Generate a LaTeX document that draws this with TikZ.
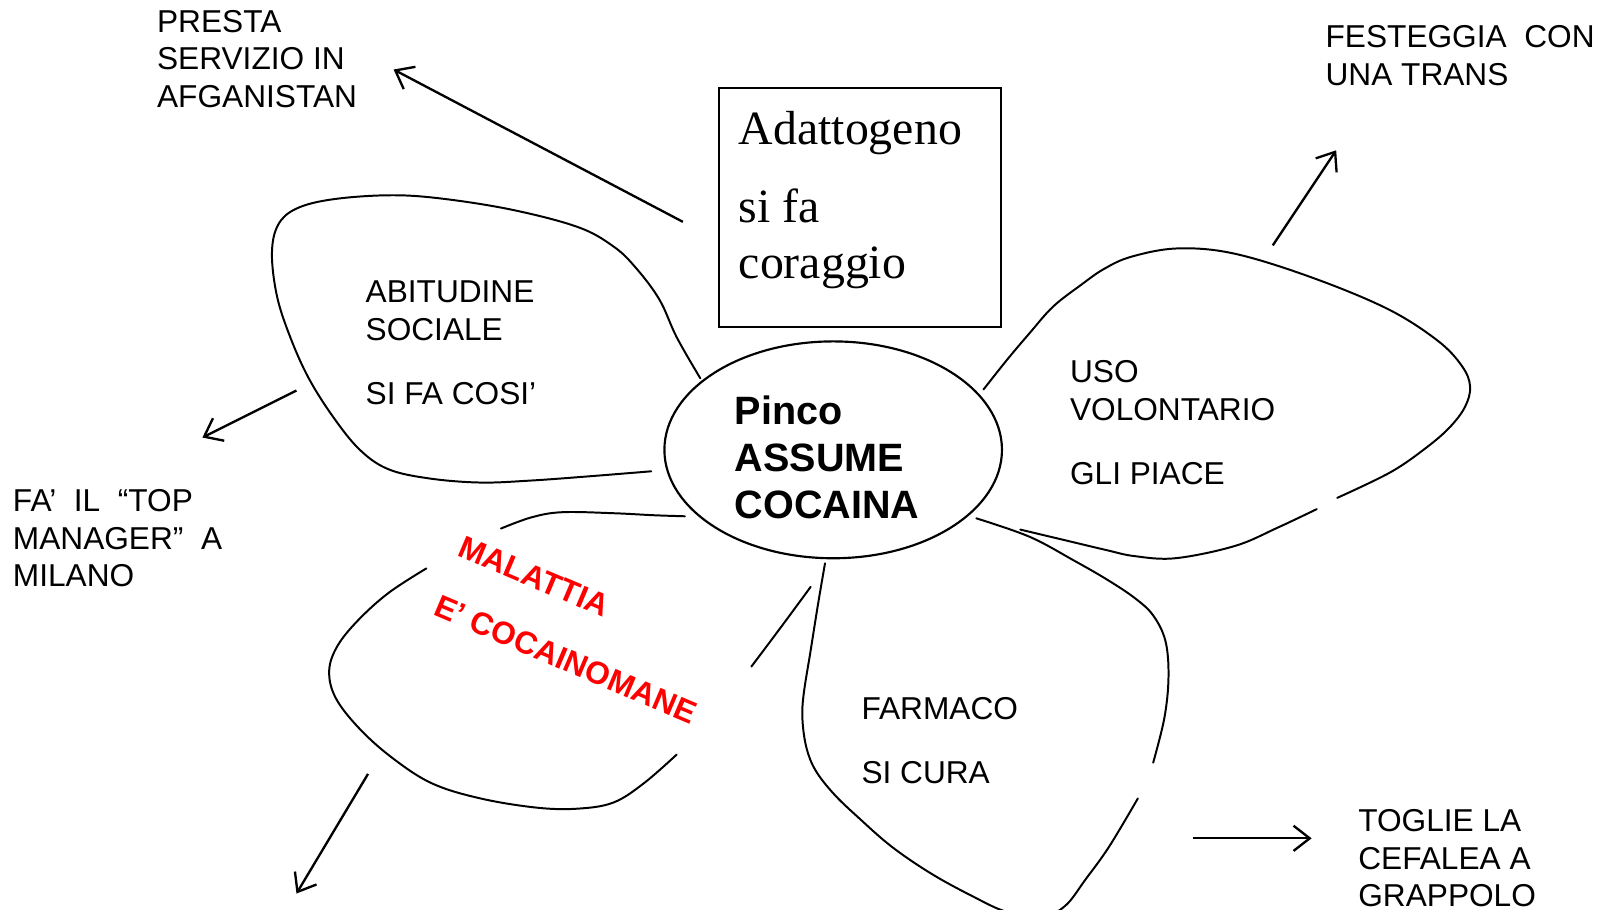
\documentclass[tikz,border=0pt]{standalone}
\usepackage{fontspec}
\setmainfont{Liberation Sans}
\newfontfamily\boxserif{Liberation Serif}
\usetikzlibrary{arrows.meta,shapes.geometric}
\begin{document}
\begin{tikzpicture}[x=0.01cm,y=-0.01cm,
  lbl/.style={anchor=north west, inner sep=0, align=left, font=\fontsize{8.8}{10.5}\selectfont},
  arr/.style={-{Straight Barb[length=4.5pt,width=7pt]}, line width=0.65pt},
  petal/.style={line width=0.55pt, line cap=round},
  redlbl/.style={anchor=base west, inner sep=0, rotate=-23, text=red, font=\fontsize{8.8}{10.5}\selectfont\bfseries},
  boxtxt/.style={anchor=base west, inner sep=0, font=\fontsize{13.3}{16}\boxserif},
]
\useasboundingbox (0,0) rectangle (1568,890);

% centre and box
\node[draw, ellipse, line width=0.6pt, minimum width=3.3cm, minimum height=2.12cm, inner sep=0] (ctr) at (815,440) {};
\node[lbl, font=\fontsize{11}{13.2}\selectfont\bfseries] (ctrtxt) at (718,386) {Pinco\\ASSUME\\COCAINA};
\node[draw, line width=0.5pt, minimum width=2.76cm, minimum height=2.34cm, inner sep=0] (box) at (841,203) {};
\node[boxtxt] (bx1) at (722,141) {Adattogeno};
\node[boxtxt] (bx2) at (722,218) {si fa};
\node[boxtxt] (bx3) at (722,272) {coraggio};

% petals
\draw[petal] plot[smooth, tension=0.6] coordinates {(685,370) (662,330) (645,293) (622,262) (600,241) (565,222) (500,205) (430,194) (380,191) (325,195) (290,204) (272,220) (266,248) (271,290) (284,330) (302,370) (326,408) (352,440) (380,459) (420,468) (470,472) (520,470) (575,466) (637,461)};
\draw[petal] plot[smooth, tension=0.6] coordinates {(670,505) (640,504) (600,502) (550,501) (520,506) (490,517)};
\draw[petal] plot[smooth, tension=0.6] coordinates {(417,556) (380,580) (350,607) (330,632) (322,656) (328,682) (350,711) (382,740) (422,766) (470,781) (525,790) (565,791) (600,785) (630,766) (662,738)};
\draw[petal] plot[smooth, tension=0.6] coordinates {(735,652) (765,612) (793,574)};
\draw[petal] plot[smooth, tension=0.6] coordinates {(807,551) (800,592) (793,636) (786,680) (785,705) (789,732) (798,754) (816,777) (840,800) (872,828) (910,854) (950,876) (985,892) (1020,896) (1042,886) (1062,860) (1085,828) (1113,781)};
\draw[petal] plot[smooth, tension=0.6] coordinates {(955,507) (1007,525) (1050,548) (1083,567) (1110,585) (1128,602) (1140,627) (1143,662) (1139,702) (1128,746)};
\draw[petal] plot[smooth, tension=0.6] coordinates {(962,381) (985,352) (1007,326) (1030,300) (1057,279) (1080,263) (1107,251) (1152,243) (1207,248) (1282,271) (1357,302) (1406,333) (1430,358) (1438,378) (1433,398) (1418,418) (1395,438) (1360,462) (1308,487)};
\draw[petal] plot[smooth, tension=0.6] coordinates {(1288,498) (1250,516) (1208,534) (1150,546) (1110,544) (1082,538) (1040,528) (998,518)};

% arrows
\coordinate (a1s) at (668,217); \coordinate (a1e) at (385,68);
\coordinate (a2s) at (1245,240); \coordinate (a2e) at (1307,147);
\coordinate (a3s) at (290,382); \coordinate (a3e) at (198,428);
\coordinate (a4s) at (360,757); \coordinate (a4e) at (290,874);
\coordinate (a5s) at (1167,820); \coordinate (a5e) at (1283,820);
\draw[arr] (a1s) -- (a1e);
\draw[arr] (a2s) -- (a2e);
\draw[arr] (a3s) -- (a3e);
\draw[arr] (a4s) -- (a4e);
\draw[arr] (a5s) -- (a5e);

% outer labels
\node[lbl] (presta) at (153,9) {PRESTA\\SERVIZIO IN\\AFGANISTAN};
\node[lbl] (fest) at (1296,24) {FESTEGGIA\ \ CON\\UNA TRANS};
\node[lbl] (fa) at (12,478) {FA’\ \ IL\ \ “TOP\\MANAGER”\ \ A\\MILANO};
\node[lbl] (toglie) at (1328,791) {TOGLIE LA\\CEFALEA A\\GRAPPOLO};

% petal labels
\node[lbl] (abit) at (357,274) {ABITUDINE\\SOCIALE\\[7.4pt]SI FA COSI’};
\node[lbl] (uso) at (1046,352) {USO\\VOLONTARIO\\[7.4pt]GLI PIACE};
\node[lbl] (farm) at (842,681) {FARMACO\\[7.4pt]SI CURA};
\node[redlbl] (mal1) at (446,543) {MALATTIA};
\node[redlbl] (mal2) at (422,601) {E’ COCAINOMANE};
\end{tikzpicture}
\end{document}
